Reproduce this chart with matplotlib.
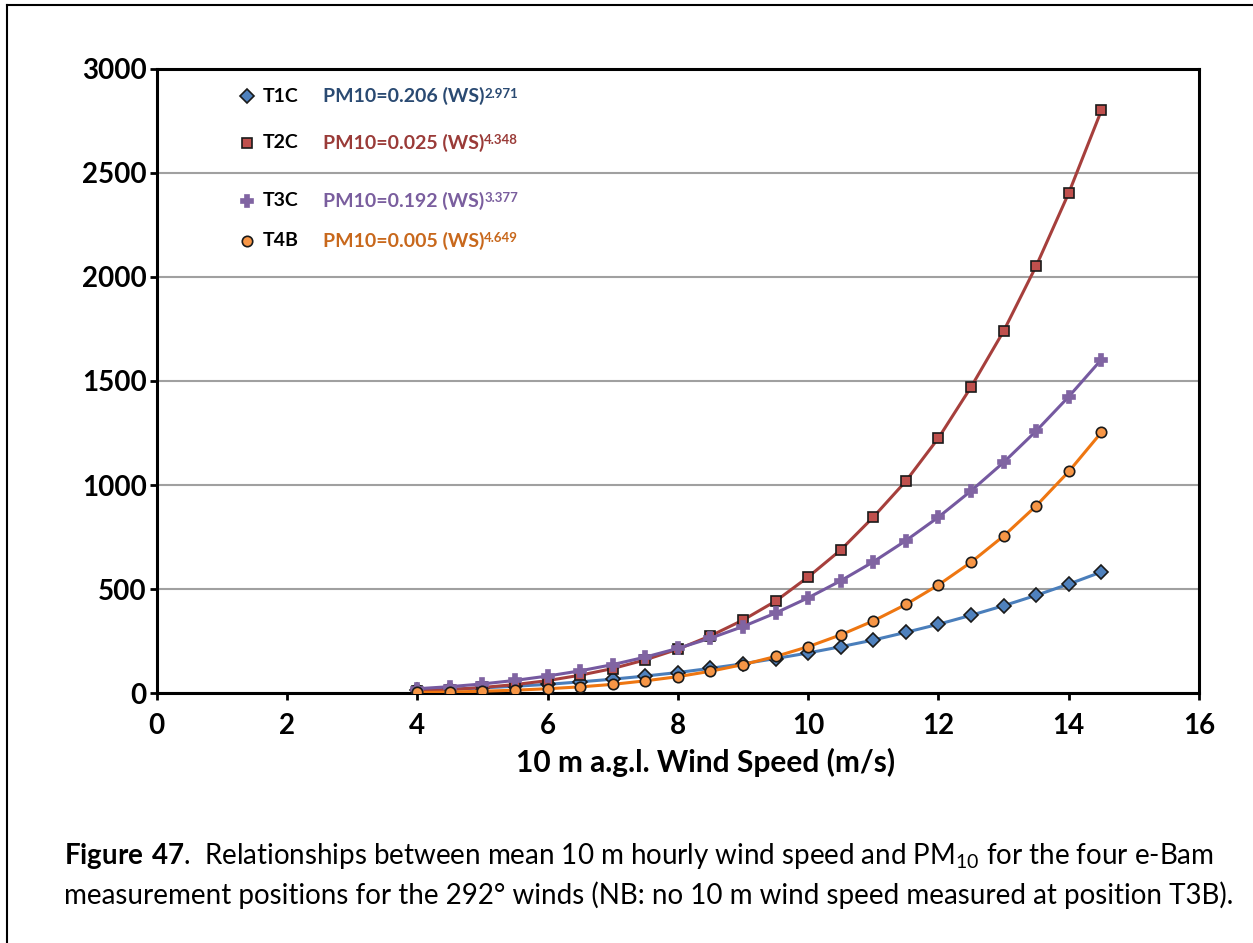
import matplotlib.pyplot as plt
from matplotlib.lines import Line2D

plt.rcParams['font.family'] = ['Lato', 'DejaVu Sans']
plt.rcParams['mathtext.fontset'] = 'custom'
plt.rcParams['mathtext.rm'] = 'Lato'
plt.rcParams['mathtext.bf'] = 'Lato:bold'

# wind speed (m/s), 10 m a.g.l.
wind = [4, 4.5, 5, 5.5, 6, 6.5, 7, 7.5, 8, 8.5, 9, 9.5,
        10, 10.5, 11, 11.5, 12, 12.5, 13, 13.5, 14, 14.5]

# PM10
t1c = [13, 18, 25, 33, 42, 54, 67, 82, 99, 119, 141, 166,
       193, 223, 255, 292, 331, 374, 420, 470, 524, 582]
t2c = [10, 17, 27, 41, 60, 86, 118, 160, 211, 275, 351, 442,
       558, 688, 846, 1019, 1226, 1471, 1740, 2053, 2404, 2800]
t3c = [21, 31, 44, 61, 82, 107, 137, 173, 215, 264, 320, 385,
       458, 540, 631, 733, 846, 972, 1109, 1260, 1425, 1603]
t4b = [3, 5, 9, 14, 21, 30, 42, 59, 79, 105, 137, 176,
       223, 280, 347, 426, 520, 629, 755, 900, 1065, 1253]

names = ['T1C', 'T2C', 'T3C', 'T4B']
equations = ['PM10=0.206 (WS)', 'PM10=0.025 (WS)', 'PM10=0.192 (WS)', 'PM10=0.005 (WS)']
exponents = ['2.971', '4.348', '3.377', '4.649']

fig = plt.figure(figsize=(12.53, 9.43), dpi=100)
ax = fig.add_axes([0.125, 0.265, 0.832, 0.662])

styles = [
    # line colour, marker, face, edge, size, text colour
    ('#4A7EBB', 'D', '#4F81BD', '#1a1a1a', 7.5, '#2A4A72'),
    ('#A63F3C', 's', '#C0504D', '#1a1a1a', 7.5, '#9A3B38'),
    ('#7559A0', 'P', '#8064A2', '#8064A2', 9, '#7A5E9E'),
    ('#EE7611', 'o', '#F79646', '#1a1a1a', 7.5, '#C8681C'),
]

for series, st in zip([t1c, t2c, t3c, t4b], styles):
    ax.plot(wind, series, color=st[0], lw=2.2, marker=st[1], markerfacecolor=st[2],
            markeredgecolor=st[3], markersize=st[4], markeredgewidth=1.2, zorder=3)

ax.set_xlim(0, 16)
ax.set_ylim(0, 3000)
ax.set_xticks(range(0, 17, 2))
ax.set_yticks(range(0, 3001, 500))
ax.yaxis.grid(True, color='#a0a0a0', lw=1.5)
ax.set_axisbelow(True)
for s in ax.spines.values():
    s.set_linewidth(2.2)
    s.set_color('black')
ax.tick_params(axis='both', direction='out', length=5, width=2, labelsize=20)
ax.tick_params(axis='x', pad=9)
ax.tick_params(axis='y', pad=2)
for lab in ax.get_xticklabels() + ax.get_yticklabels():
    lab.set_fontweight('bold')
ax.set_xlabel('10 m a.g.l. Wind Speed (m/s)', fontsize=21.5, fontweight='bold')
ax.xaxis.set_label_coords(0.527, -0.088)

# legend, drawn by hand like the original
leg_y = [0.956, 0.882, 0.789, 0.725]
for i in range(4):
    st = styles[i]
    ax.plot([0.087], [leg_y[i]], transform=ax.transAxes, marker=st[1], markerfacecolor=st[2],
            markeredgecolor=st[3], markersize=st[4], markeredgewidth=1.2, clip_on=False)
    ax.text(0.102, leg_y[i], names[i], transform=ax.transAxes, fontsize=14,
            fontweight='bold', va='center', ha='left')
    eq = ax.text(0.1595, leg_y[i], equations[i], transform=ax.transAxes, fontsize=14,
                 fontweight='bold', va='center', ha='left', color=st[5])
    ax.annotate(exponents[i], xy=(1, 0.95), xycoords=eq, fontsize=9.5, fontweight='bold',
                va='top', ha='left', color=st[5])

# caption
fig.text(64 / 1253, 1 - 864 / 943,
         r'$\mathbf{Figure\ 47}$.  Relationships between mean 10 m hourly wind speed and PM$_{10}$ for the four e-Bam',
         fontsize=20, va='baseline', ha='left')
fig.text(64 / 1253, 1 - 904 / 943,
         'measurement positions for the 292° winds (NB: no 10 m wind speed measured at position T3B).',
         fontsize=20, va='baseline', ha='left')

# page frame
fig.add_artist(Line2D([7 / 1253, 7 / 1253], [1 - 5 / 943, 0], transform=fig.transFigure,
                      color='black', lw=1.5))
fig.add_artist(Line2D([7 / 1253, 1], [1 - 5 / 943, 1 - 5 / 943], transform=fig.transFigure,
                      color='black', lw=1.5))

fig.savefig('out.png', dpi=100)
